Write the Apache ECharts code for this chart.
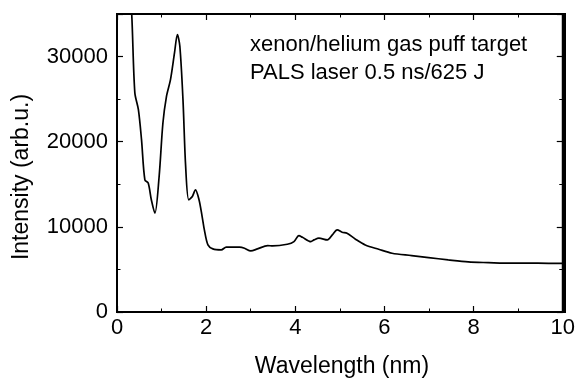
<!DOCTYPE html>
<html><head><meta charset="utf-8">
<script src="https://cdn.jsdelivr.net/npm/echarts@6/dist/echarts.min.js"></script>
<style>html,body{margin:0;padding:0;background:#fff}#c{width:578px;height:379px}</style>
</head><body><div id="c"></div>
<script>
var wavelength = [0.28,0.33,0.40,0.48,0.55,0.625,0.70,0.77,0.85,0.945,1.03,1.11,1.20,1.29,1.355,1.41,1.48,1.54,1.61,1.69,1.76,1.84,1.91,1.96,2.04,2.15,2.34,2.45,2.75,2.86,3.0,3.15,3.38,3.49,3.82,3.97,4.08,4.16,4.35,4.42,4.53,4.72,4.83,4.94,5.05,5.16,5.35,5.57,5.87,6.17,6.61,6.99,7.43,7.88,8.33,8.85,9.44,10.0];
var intensity = [38000,35000,25760,23760,20240,15530,15140,13180,11610,15920,22200,25330,27300,30430,32590,31210,24940,17100,13180,13570,14350,13180,11210,9650,7880,7410,7300,7610,7610,7490,7180,7410,7800,7760,7960,8270,8980,8780,8270,8470,8670,8470,9060,9650,9370,9250,8550,7880,7370,6900,6630,6390,6120,5880,5800,5730,5730,5700];
var xTicks = [0,2,4,6,8,10];
var yTicks = [0,10000,20000,30000];
var annotation = ['xenon/helium gas puff target','PALS laser 0.5 ns/625 J'];
var xTitle = 'Wavelength (nm)';
var yTitle = 'Intensity (arb.u.)';

var data = wavelength.map(function(x,i){return [x,intensity[i]];});
var font = 'Liberation Sans, Arial, sans-serif';
function axisCommon(extra){
  var o = {
    axisLine:{show:true,onZero:false,lineStyle:{color:'#000',width:2}},
    axisTick:{show:true,inside:true,length:6,lineStyle:{color:'#000',width:1.2}},
    minorTick:{show:true,splitNumber:2,length:3.5,lineStyle:{color:'#000',width:1}},
    splitLine:{show:false}
  };
  return Object.assign(o, extra);
}
var chart = echarts.init(document.getElementById('c'));
chart.setOption({
  animation:false,
  backgroundColor:'#fff',
  grid:{left:117,right:13,top:14,bottom:67,containLabel:false,show:true,borderColor:'#000',borderWidth:2,backgroundColor:'transparent'},
  xAxis:[
    axisCommon({type:'value',min:0,max:10,interval:2,position:'bottom',
      axisLabel:{fontFamily:font,fontSize:22,color:'#000',margin:5,
        formatter:function(v){return xTicks.indexOf(v)>=0?String(v):'';}}}),
    axisCommon({type:'value',min:0,max:10,interval:2,position:'top',axisLabel:{show:false}})
  ],
  yAxis:[
    axisCommon({type:'value',min:0,max:35000,interval:10000,position:'left',
      axisLabel:{fontFamily:font,fontSize:22,color:'#000',margin:9,showMaxLabel:false,
        formatter:function(v){return yTicks.indexOf(v)>=0?String(v):'';}}}),
    axisCommon({type:'value',min:0,max:35000,interval:10000,position:'right',axisLabel:{show:false}})
  ],
  graphic:[
    {type:'rect',z:100,shape:{x:117,y:14,width:448,height:298},style:{fill:'none',stroke:'#000',lineWidth:2}},
    {type:'text',left:250,top:34,style:{text:annotation[0],font:'22px '+font,fill:'#000'}},
    {type:'text',left:250,top:62,style:{text:annotation[1],font:'22px '+font,fill:'#000'}},
    {type:'text',x:342,y:367,style:{text:xTitle,font:'23px '+font,fill:'#000',align:'center',verticalAlign:'middle'}},
    {type:'text',x:22,y:177,rotation:Math.PI/2,style:{text:yTitle,font:'23px '+font,fill:'#000',align:'center',verticalAlign:'middle'}}
  ],
  series:[{type:'line',data:data,showSymbol:false,smooth:0.3,clip:true,
    lineStyle:{color:'#000',width:1.7}}]
});
</script></body></html>
